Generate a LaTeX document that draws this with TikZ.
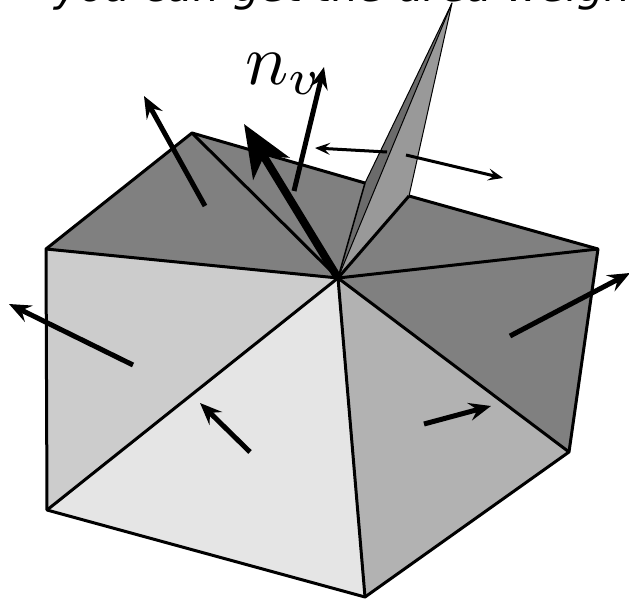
\documentclass[tikz,border=0pt]{standalone}
\usepackage{fontspec}
\usetikzlibrary{arrows.meta}
\newfontfamily\headfont{DejaVu Sans Oblique}
\definecolor{facedark}{gray}{0.5}
\definecolor{facemid}{gray}{0.7}
\definecolor{faceleft}{gray}{0.8}
\definecolor{facelight}{gray}{0.9}
\definecolor{flapdark}{gray}{0.42}
\definecolor{flaplight}{gray}{0.6}
\tikzset{
	normal/.style={line width=5pt,-{Stealth[length=22pt,width=18pt,inset=8pt]}},
	wingnormal/.style={line width=3pt,-{Stealth[length=15pt,width=12pt,inset=6pt]}},
	edge/.style={line width=3pt,line join=round}
}
\begin{document}
\begin{tikzpicture}[x=1pt,y=-1pt,line cap=butt]
	\useasboundingbox (0,0) rectangle (629,599);
	\clip (0,0) rectangle (629,599);
	\coordinate (c) at (338,278);
	\coordinate (ul) at (46,249);
	\coordinate (ut) at (192,133);
	\coordinate (fl) at (365,183);
	\coordinate (fr) at (409,196);
	\coordinate (ur) at (598,249);
	\coordinate (lr) at (569,452);
	\coordinate (lo) at (365,597);
	\coordinate (ll) at (47,510);
	\coordinate (tip) at (452,3);
	\node[anchor=base west,inner sep=0pt,font=\headfont\fontsize{42}{42}\selectfont] (head) at (54,2) {you can get the area weight};
	% faces
	\fill[facedark] (c) -- (ul) -- (ut) -- (fl) -- (fr) -- (ur) -- cycle;
	\fill[facedark] (c) -- (ur) -- (lr) -- cycle;
	\fill[facemid] (c) -- (lr) -- (lo) -- cycle;
	\fill[facelight] (c) -- (lo) -- (ll) -- cycle;
	\fill[faceleft] (c) -- (ll) -- (ul) -- cycle;
	% flap
	\fill[flapdark] (c) -- (fl) -- (tip) -- cycle;
	\fill[flaplight] (c) -- (tip) -- (fr) -- cycle;
	\draw[line width=1pt,line join=round] (fl) -- (tip) -- (fr);
	\draw[line width=1pt] (c) -- (tip);
	\draw[line width=1.5pt] (c) -- (fl);
	\draw[edge] (fl) -- (ut) -- (ul) -- (ll) -- (lo) -- (lr) -- (ur) -- (fr);
	\foreach \p in {ul,ut,fr,ur,lr,lo,ll}
		\draw[edge] (c) -- (\p);
	% normals
	\draw[normal] (205,206) -- (144,96);
	\draw[normal] (133,365) -- (9,304);
	\draw[normal] (510,336) -- (630,273);
	\draw[normal] (250,452) -- (200,403);
	\draw[normal] (424,424) -- (491,406);
	\draw[normal] (294,191) -- (324,67);
	\draw[wingnormal] (387,152) -- (315,148);
	\draw[wingnormal] (406,155) -- (503,178);
	\draw[line width=8pt,-{Stealth[length=52pt,width=42pt,inset=14pt]}] (c) -- (244,124);
	\node[inner sep=0pt,scale=7.2] (nv) at (284,74) {$n_v$};
\end{tikzpicture}
\end{document}
